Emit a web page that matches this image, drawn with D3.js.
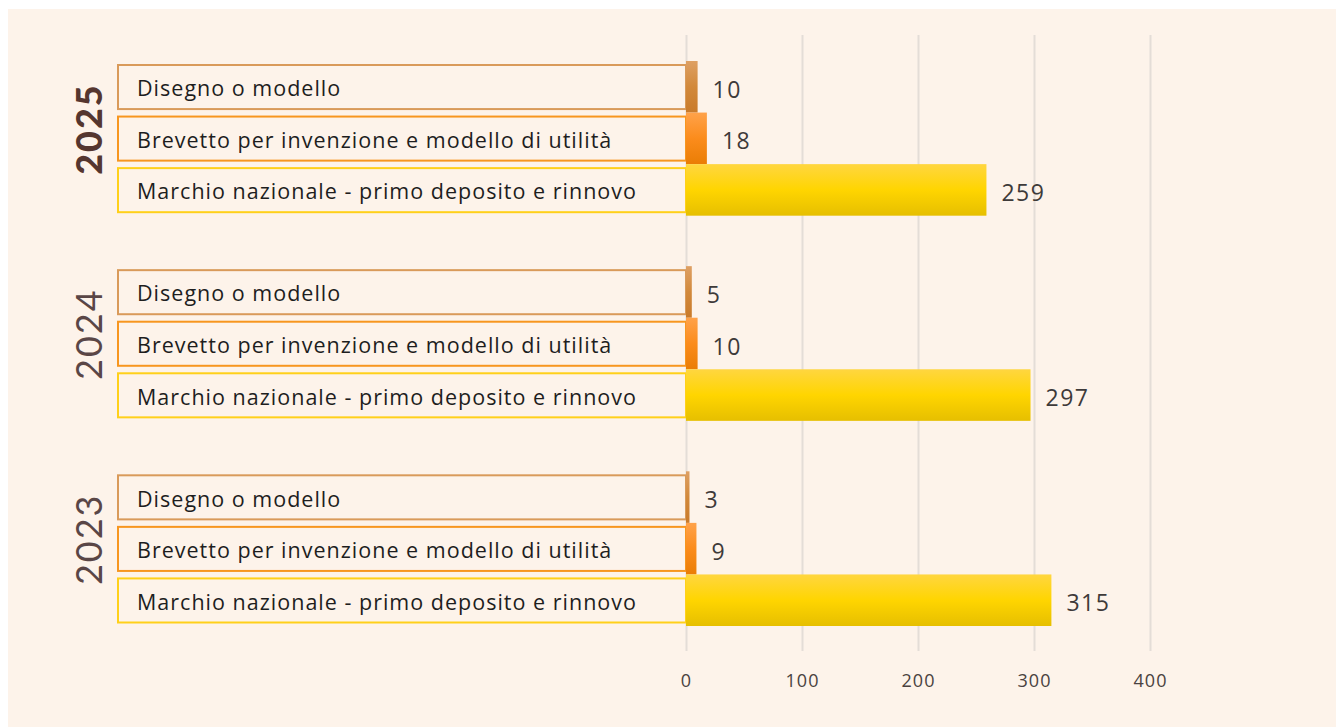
<!DOCTYPE html>
<html>
<head>
<meta charset="utf-8">
<script src="https://cdn.jsdelivr.net/npm/d3@7"></script>
<style>
  html, body { margin: 0; padding: 0; background: #fff; }
  #canvas { width: 1336px; height: 727px; }
  svg { display: block; font-family: "Open Sans", Lato, sans-serif; }
</style>
</head>
<body>
<div id="canvas"></div>
<script>
var years = ['2025', '2024', '2023'];
var categories = ['Disegno o modello',
                  'Brevetto per invenzione e modello di utilità',
                  'Marchio nazionale - primo deposito e rinnovo'];
var values2025 = [10, 18, 259];
var values2024 = [5, 10, 297];
var values2023 = [3, 9, 315];
var xTicks = [0, 100, 200, 300, 400];

var W = 1336, H = 727;

var rows = [];
[values2025, values2024, values2023].forEach(function(vals, i) {
  vals.forEach(function(v, j) {
    rows.push({ year: years[i], cat: categories[j], k: j, value: v });
  });
});

var svg = d3.select('#canvas').append('svg')
    .attr('width', W).attr('height', H);

// cream panel
svg.append('rect').attr('x', 8).attr('y', 9)
    .attr('width', W - 8).attr('height', H - 9)
    .attr('fill', '#fdf3ea');

var x = d3.scaleLinear().domain([0, 400]).range([686, 1150]);

var yYear = d3.scaleBand().domain(years)
    .range([61, 626])
    .paddingInner(0.246).paddingOuter(0);

var yCat = d3.scaleBand().domain(d3.range(3))
    .range([0, yYear.bandwidth()]);

var strokeCols = ['#d99a5a', '#f7961f', '#ffd01a'];
var gradCols = [
  ['#dea064', '#d2893b', '#c97a2a'],
  ['#ffa24a', '#fb8c1c', '#ea7d05'],
  ['#ffd640', '#ffd500', '#e6bf00']
];

var defs = svg.append('defs');
gradCols.forEach(function(c, i) {
  var g = defs.append('linearGradient').attr('id', 'g' + i)
      .attr('x1', 0).attr('y1', 0).attr('x2', 0).attr('y2', 1);
  g.append('stop').attr('offset', '0%').attr('stop-color', c[0]);
  g.append('stop').attr('offset', '50%').attr('stop-color', c[1]);
  g.append('stop').attr('offset', '100%').attr('stop-color', c[2]);
});

// grid lines
var axisX = d3.axisBottom(x).tickValues(xTicks).tickSize(-(651 - 35)).tickPadding(23);
var gx = svg.append('g').attr('class', 'axis axis-x')
    .attr('transform', 'translate(0,651)')
    .call(axisX);
gx.select('.domain').remove();
gx.selectAll('.tick line').attr('stroke', '#e4ddd7').attr('stroke-width', 2);
gx.selectAll('.tick text')
    .attr('fill', '#4a4240')
    .style('font-size', '18px')
    .style('letter-spacing', '1px')
    .style('font-family', '"Open Sans", sans-serif');

function bandY(d) { return yYear(d.year) + yCat(d.k); }

// label boxes
svg.selectAll('rect.box').data(rows).enter()
  .append('rect').attr('class', 'box')
  .attr('x', 118)
  .attr('y', function(d) { return bandY(d) + 4; })
  .attr('width', x(0) - 118)
  .attr('height', yCat.bandwidth() - 7.5)
  .attr('fill', '#fdf3ea')
  .attr('stroke', function(d) { return strokeCols[d.k]; })
  .attr('stroke-width', 2);

var catText = svg.selectAll('text.cat').data(rows).enter()
  .append('text').attr('class', 'cat')
  .attr('x', 137)
  .attr('y', function(d) { return bandY(d) + yCat.bandwidth() / 2 + 1; })
  .attr('dominant-baseline', 'central')
  .attr('fill', '#1e1e1e')
  .style('font-size', '21.5px')
  .text(function(d) { return d.cat; });

// stretch spacing so the longest label spans ~500px like the original
var longest = catText.filter(function(d) { return d.k === 2; }).node();
var len = longest.getComputedTextLength();
var ls = (500 - len) / categories[2].length;
catText.style('letter-spacing', ls + 'px');

// bars
svg.selectAll('rect.bar').data(rows).enter()
  .append('rect').attr('class', 'bar')
  .attr('x', x(0))
  .attr('y', bandY)
  .attr('width', function(d) { return x(d.value) - x(0); })
  .attr('height', yCat.bandwidth())
  .attr('fill', function(d) { return 'url(#g' + d.k + ')'; });

svg.selectAll('text.val').data(rows).enter()
  .append('text').attr('class', 'val')
  .attr('x', function(d) { return x(d.value) + 15; })
  .attr('y', function(d) { return bandY(d) + yCat.bandwidth() / 2 + 2; })
  .attr('dominant-baseline', 'central')
  .attr('fill', '#3e3a39')
  .style('font-size', '23px')
  .style('letter-spacing', '1.5px')
  .text(function(d) { return d.value; });

// year labels
svg.selectAll('text.year').data(years).enter()
  .append('text').attr('class', 'year')
  .attr('transform', function(d) {
    return 'translate(88,' + (yYear(d) + 68) + ') rotate(-90)';
  })
  .attr('text-anchor', 'middle')
  .attr('dominant-baseline', 'central')
  .attr('fill', function(d, i) { return i === 0 ? '#55362f' : '#5a4646'; })
  .style('font-family', 'Lato, sans-serif')
  .style('font-size', '36px')
  .style('letter-spacing', '2px')
  .style('font-weight', function(d, i) { return i === 0 ? 900 : 400; })
  .text(function(d) { return d; });
</script>
</body>
</html>
